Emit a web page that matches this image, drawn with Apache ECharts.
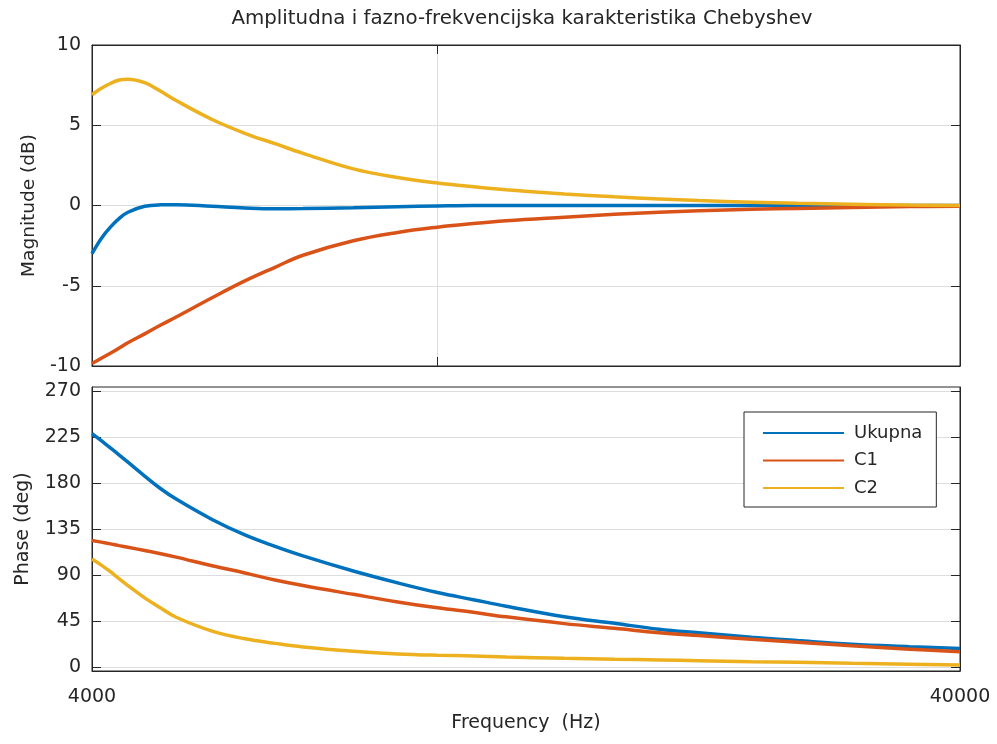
<!DOCTYPE html>
<html>
<head>
<meta charset="utf-8">
<script src="https://cdn.jsdelivr.net/npm/echarts@6/dist/echarts.min.js"></script>
<style>
html,body{margin:0;padding:0;background:#fff;}
#chart{width:997px;height:744px;}
</style>
</head>
<body>
<div id="chart"></div>
<script>
// Frequencies (Hz)
const freqs = [4000,4100,4200,4300,4400,4600,4800,5000,5500,6000,6500,7000,8000,9000,10000,11000,12000,14000,16000,18000,20000,23000,26000,30000,35000,40000];
// Magnitude (dB)
const magUkupna = [-3.0,-2.05,-1.35,-0.8,-0.42,-0.05,0.04,0.05,-0.05,-0.15,-0.2,-0.19,-0.14,-0.08,-0.03,0,0,0,0,0,0,0,0,0,0,0];
const magC1 = [-9.85,-9.52,-9.2,-8.88,-8.55,-8.0,-7.45,-6.95,-5.75,-4.7,-3.85,-3.1,-2.2,-1.68,-1.35,-1.12,-0.95,-0.73,-0.55,-0.42,-0.33,-0.24,-0.18,-0.12,-0.07,-0.04];
const magC2 = [6.9,7.3,7.6,7.82,7.87,7.65,7.12,6.54,5.36,4.5,3.85,3.25,2.28,1.74,1.4,1.17,0.98,0.72,0.54,0.41,0.31,0.21,0.14,0.08,0.03,0.0];
// Phase (deg)
const phUkupna = [228.5,221.5,214.5,207.5,200.5,187,174.6,164.5,144.6,129.5,118.3,109,94.2,82.6,73.2,66.2,59.8,49.6,43.1,37.3,33.8,29.5,26.2,22.7,20.3,18.5];
const phC1 = [124,122.4,120.7,119,117.4,114.2,111.1,107.8,99.4,92.3,85.4,80,71.4,64,58.2,53.8,49.4,42.8,38.2,33.9,31.1,27.6,24.6,21.1,17.8,15.2];
const phC2 = [106,100,93.5,86.5,80,68,58,49,35.5,28,23.5,20,15.8,13.2,11.9,11.2,10.3,8.9,8.0,7.3,6.6,5.6,5.0,4.1,3.2,2.3];
// Tick labels
const magTicks = [-10,-5,0,5,10];
const phaseTicks = [0,45,90,135,180,225,270];
const freqTopTicks = [10000];
const freqLabels = [4000,40000];
const seriesNames = ['Ukupna','C1','C2'];
const colors = ['#0072BD','#D95319','#EDB120'];

const FONT = 'DejaVu Sans';
const TXT = '#262626';
const GRIDC = '#dedede';

function pairs(vals){ return freqs.map((f,i)=>[f, vals[i]]); }

const chart = echarts.init(document.getElementById('chart'), null, {renderer:'canvas'});

const xBase = {
  type:'log', logBase:10, min:4000, max:40000,
  axisLine:{show:true, onZero:false, lineStyle:{color:TXT, width:1}},
  splitLine:{show:false},
  minorTick:{show:false}, minorSplitLine:{show:false}
};
const yBase = {
  type:'value',
  axisLine:{show:true, onZero:false, lineStyle:{color:TXT, width:1}},
  axisTick:{show:true, inside:true, length:9, lineStyle:{color:TXT}},
  axisLabel:{color:TXT, fontFamily:FONT, fontSize:19, margin:11},
  splitLine:{show:true, lineStyle:{color:GRIDC, width:1}}
};

const option = {
  animation:false,
  backgroundColor:'#ffffff',
  title:{
    text:'Amplitudna i fazno-frekvencijska karakteristika Chebyshev',
    left:517, textAlign:'center', top:4,
    textStyle:{fontFamily:FONT, fontSize:19.8, fontWeight:'normal', color:TXT}
  },
  legend:{
    data:seriesNames,
    orient:'vertical',
    left:744, top:412,
    backgroundColor:'#ffffff',
    borderColor:TXT, borderWidth:1, borderRadius:0,
    padding:[12,14,10,18],
    itemWidth:81, itemHeight:18, itemGap:9.5,
    lineStyle:{width:2},
    itemStyle:{opacity:0},
    textStyle:{fontFamily:FONT, fontSize:18, color:TXT, padding:[0,0,0,5]}
  },
  grid:[
    {left:92, right:37, top:45, height:321, show:true, borderColor:TXT, borderWidth:1, backgroundColor:'transparent'},
    {left:92, right:37, top:387, height:284, show:true, borderColor:TXT, borderWidth:1, backgroundColor:'transparent'}
  ],
  xAxis:[
    Object.assign({}, xBase, {gridIndex:0, position:'bottom',
      axisLabel:{show:false},
      axisTick:{show:true, inside:true, length:9, customValues:freqTopTicks, lineStyle:{color:TXT}},
      splitLine:{show:true, lineStyle:{color:GRIDC, width:1}}
    }),
    Object.assign({}, xBase, {gridIndex:0, position:'top',
      axisLabel:{show:false},
      axisTick:{show:true, inside:true, length:9, customValues:freqTopTicks, lineStyle:{color:TXT}}
    }),
    Object.assign({}, xBase, {gridIndex:1, position:'bottom',
      name:'Frequency  (Hz)', nameLocation:'middle', nameGap:43,
      nameTextStyle:{fontFamily:FONT, fontSize:19, color:TXT},
      axisTick:{show:false, customValues:freqLabels},
      axisLabel:{show:true, customValues:freqLabels, color:TXT, fontFamily:FONT, fontSize:19, margin:17,
        formatter:function(v){ const r=Math.round(v); return (r===10000)?'':String(r); }}
    })
  ],
  yAxis:[
    Object.assign({}, yBase, {gridIndex:0, position:'left', min:-10, max:10, interval:5,
      name:'Magnitude (dB)', nameLocation:'middle', nameGap:53, nameRotate:90,
      nameTextStyle:{fontFamily:FONT, fontSize:18.5, color:TXT}
    }),
    Object.assign({}, yBase, {gridIndex:0, position:'right', min:-10, max:10, interval:5,
      axisLabel:{show:false}, splitLine:{show:false}
    }),
    Object.assign({}, yBase, {gridIndex:1, position:'left', min:-3.5, max:274,
      axisTick:{show:true, inside:true, length:9, customValues:phaseTicks, lineStyle:{color:TXT}},
      axisLabel:{color:TXT, fontFamily:FONT, fontSize:19, margin:11, customValues:phaseTicks},
      name:'Phase (deg)', nameLocation:'middle', nameGap:59, nameRotate:90,
      nameTextStyle:{fontFamily:FONT, fontSize:19, color:TXT}
    }),
    Object.assign({}, yBase, {gridIndex:1, position:'right', min:-3.5, max:274,
      axisTick:{show:true, inside:true, length:9, customValues:phaseTicks, lineStyle:{color:TXT}},
      axisLabel:{show:false, customValues:phaseTicks}, splitLine:{show:false}
    })
  ],
  series:[]
};

const magData = [magUkupna, magC1, magC2];
const phData = [phUkupna, phC1, phC2];
seriesNames.forEach((name,i)=>{
  option.series.push({
    name:name, type:'line', xAxisIndex:0, yAxisIndex:0,
    data:pairs(magData[i]), symbol:'none', smooth:0.4,
    lineStyle:{color:colors[i], width:3.5}, itemStyle:{color:colors[i]}, z:3+i
  });
});
seriesNames.forEach((name,i)=>{
  option.series.push({
    name:name, type:'line', xAxisIndex:2, yAxisIndex:2,
    data:pairs(phData[i]), symbol:'none', smooth:0.4,
    lineStyle:{color:colors[i], width:3.5}, itemStyle:{color:colors[i]}, z:3+i
  });
});

chart.setOption(option);
</script>
</body>
</html>
